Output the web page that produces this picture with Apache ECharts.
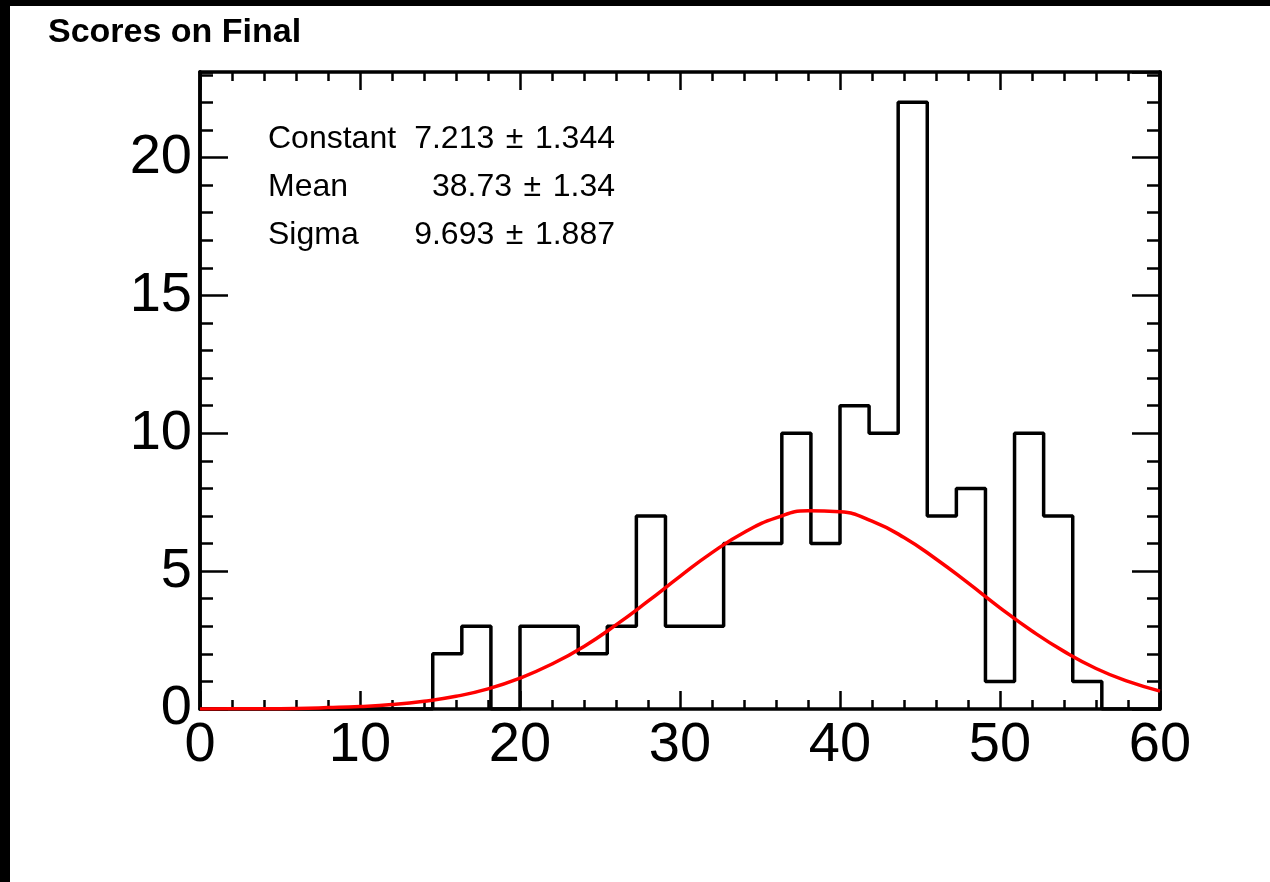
<!DOCTYPE html>
<html>
	<head>
		<meta charset="utf-8">
		<title>Scores on Final</title>
		<script src="https://cdn.jsdelivr.net/npm/echarts@6.0.0/dist/echarts.min.js"></script>
		<style>
			html, body { margin: 0; padding: 0; background: #fff; }
		</style>
	</head>
	<body>
		<div id="main" style="width: 1270px;height:882px;"></div>
		<script>
			// histogram: 33 bins between 0 and 60
			var xMin = 0, xMax = 60;
			var binCounts = [0, 0, 0, 0, 0, 0, 0, 0, 2, 3, 0, 3, 3, 2, 3, 7, 3,
				3, 6, 6, 10, 6, 11, 10, 22, 7, 8, 1, 10, 7, 1, 0, 0];

			// gaussian fit curve
			var fitX = [0, 2, 4, 6, 8, 10, 12, 14, 16, 18, 20, 22, 24, 26, 28, 30,
				32, 34, 36, 38, 40, 42, 44, 46, 48, 50, 52, 54, 56, 58, 60];
			var fitY = [0.00, 0.01, 0.01, 0.02, 0.05, 0.09, 0.16, 0.28, 0.46, 0.73, 1.12,
				1.63, 2.27, 3.05, 3.91, 4.81, 5.67, 6.40, 6.93, 7.19, 7.15, 6.81, 6.22,
				5.44, 4.57, 3.67, 2.83, 2.09, 1.47, 1.00, 0.65];

			// stats box
			var statNames = ['Constant', 'Mean', 'Sigma'];
			var statValues = ['7.213', '38.73', '9.693'];
			var statErrors = ['1.344', '1.34', '1.887'];

			var font = "'Liberation Sans', Arial, Helvetica, sans-serif";

			var binWidth = (xMax - xMin) / binCounts.length;
			var histData = binCounts.map(function(c, i) {
				return [xMin + i * binWidth, c];
			});
			histData.push([xMax, 0]);

			var fitData = fitX.map(function(x, i) {
				return [x, fitY[i]];
			});

			var graphics = [
				{ type: 'rect', shape: { x: 0, y: 0, width: 1270, height: 6 }, style: { fill: '#000' } },
				{ type: 'rect', shape: { x: 0, y: 0, width: 10, height: 882 }, style: { fill: '#000' } },
				{ type: 'text', x: 48, y: 33, style: { text: 'Scores on Final', font: 'bold 34px ' + font, fill: '#000', verticalAlign: 'middle' } }
			];
			var rowY = [139, 187, 235];
			statNames.forEach(function(name, i) {
				graphics.push({ type: 'text', x: 268, y: rowY[i], style: { text: name, font: '32px ' + font, fill: '#000', verticalAlign: 'middle' } });
				graphics.push({ type: 'text', x: 615, y: rowY[i], style: { text: statValues[i] + ' \u200a\u00b1\u200a ' + statErrors[i], font: '32px ' + font, fill: '#000', align: 'right', verticalAlign: 'middle' } });
			});

			function xAxisOf(pos, showLabel) {
				return {
					type: 'value', position: pos, min: xMin, max: xMax, interval: 10,
					axisLine: { show: true, onZero: false, lineStyle: { color: '#000', width: 3.5 } },
					axisTick: { show: true, inside: true, length: 18, lineStyle: { color: '#000', width: 2.5 } },
					minorTick: { show: true, splitNumber: 5, length: 9, lineStyle: { color: '#000', width: 2.5 } },
					splitLine: { show: false },
					axisLabel: { show: showLabel, margin: 9, fontSize: 56, color: '#000', fontFamily: font, showMinLabel: true, showMaxLabel: true }
				};
			}
			function yAxisOf(pos, interval, len, showLabel) {
				return {
					type: 'value', position: pos, min: 0, max: 23.1, interval: interval,
					axisLine: { show: true, onZero: false, lineStyle: { color: '#000', width: 3.5 } },
					axisTick: { show: true, inside: true, length: len, lineStyle: { color: '#000', width: 2.5 } },
					splitLine: { show: false },
					axisLabel: { show: showLabel, margin: 8, fontSize: 56, color: '#000', fontFamily: font, showMaxLabel: false }
				};
			}

			var myChart = echarts.init(document.getElementById('main'));
			var option = {
				backgroundColor: '#fff',
				animation: false,
				grid: { left: 200, right: 110, top: 72, bottom: 173 },
				xAxis: [xAxisOf('bottom', true), xAxisOf('top', false)],
				yAxis: [
					yAxisOf('left', 5, 28, true),
					yAxisOf('left', 1, 13, false),
					yAxisOf('right', 5, 28, false),
					yAxisOf('right', 1, 13, false)
				],
				graphic: graphics,
				series: [
					{
						name: 'Scores',
						type: 'line',
						step: 'end',
						data: histData,
						symbol: 'none',
						lineStyle: { color: '#000', width: 3.5 },
						z: 2
					},
					{
						name: 'Fit',
						type: 'line',
						data: fitData,
						smooth: true,
						symbol: 'none',
						lineStyle: { color: '#ff0000', width: 3.5 },
						z: 3
					}
				]
			};
			myChart.setOption(option);
		</script>
	</body>
</html>
